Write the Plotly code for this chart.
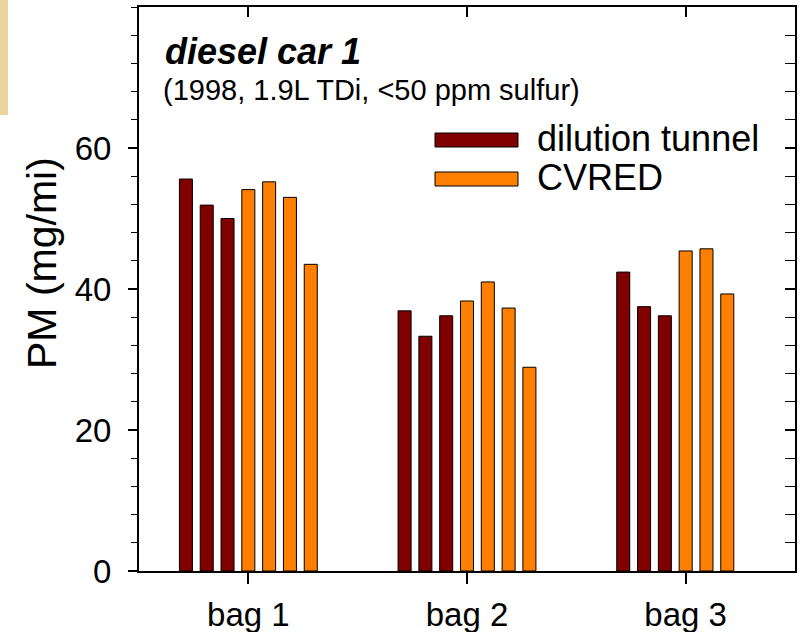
import plotly.graph_objects as go

# ---- data ----
bags = ["bag 1", "bag 2", "bag 3"]
# PM per run (mg/mi), one list per bag
dilution_tunnel = [
    [55.6, 51.9, 50.0],
    [36.9, 33.3, 36.2],
    [42.4, 37.5, 36.2],
]
cvred = [
    [54.1, 55.2, 53.0, 43.5],
    [38.3, 41.0, 37.3, 28.9],
    [45.4, 45.7, 39.3],
]
series_names = ["dilution tunnel", "CVRED"]
series_colors = ["#800000", "#FF8000"]
y_ticks = [0, 20, 40, 60]

FONT = "Liberation Sans, Arial, sans-serif"

fig = go.Figure()

def run_values(table, i):
    return [row[i] if i < len(row) else None for row in table]

n_dt = max(len(r) for r in dilution_tunnel)
n_cv = max(len(r) for r in cvred)
for table, name, color, n in [
    (dilution_tunnel, series_names[0], series_colors[0], n_dt),
    (cvred, series_names[1], series_colors[1], n_cv),
]:
    for i in range(n):
        fig.add_trace(go.Bar(
            x=bags, y=run_values(table, i), name=name, legendgroup=name,
            showlegend=False,
            marker=dict(color=color, line=dict(color="black", width=1)),
            xaxis="x", yaxis="y",
        ))

# invisible trace for the mirrored (top/right) axes
fig.add_trace(go.Scatter(x=[0], y=[0], xaxis="x2", yaxis="y2", mode="markers",
                         marker=dict(opacity=0), showlegend=False, hoverinfo="skip"))

fig.update_layout(
    width=802, height=632,
    margin=dict(l=139, r=7, t=7, b=61, autoexpand=False),
    plot_bgcolor="white", paper_bgcolor="white",
    barmode="group", bargap=0.334, bargroupgap=0.374,
    showlegend=False,
    font=dict(family=FONT, color="black", size=32),
    xaxis=dict(
        type="category", range=[-0.5, 2.5], showline=True, linecolor="black", linewidth=2,
        ticks="outside", ticklen=11, tickwidth=1.5, tickcolor="black",
        tickfont=dict(size=33, family=FONT), showgrid=False, zeroline=False,
        ticklabelstandoff=2, automargin=False,
    ),
    yaxis=dict(
        range=[0, 80], tickmode="array", tickvals=y_ticks, showline=True,
        linecolor="black", linewidth=2, ticks="outside", ticklen=9, tickwidth=1.5,
        tickcolor="black", tickfont=dict(size=33, family=FONT), showgrid=False,
        zeroline=False, ticklabelstandoff=10, automargin=False,
        minor=dict(dtick=4, tick0=0, ticks="outside", ticklen=6, tickwidth=1.2,
                   tickcolor="black", showgrid=False),
    ),
    xaxis2=dict(
        overlaying="x", side="top", range=[-0.5, 2.5], tickmode="array",
        tickvals=[0, 1, 2], showticklabels=False, showline=True, linecolor="black",
        linewidth=2, ticks="inside", ticklen=10, tickwidth=1.5, tickcolor="black",
        showgrid=False, zeroline=False, automargin=False,
    ),
    yaxis2=dict(
        overlaying="y", side="right", range=[0, 80], tickmode="array",
        tickvals=y_ticks + [80], showticklabels=False, showline=True, linecolor="black",
        linewidth=2, ticks="inside", ticklen=10, tickwidth=1.5, tickcolor="black",
        showgrid=False, zeroline=False, automargin=False,
        minor=dict(dtick=4, tick0=0, ticks="inside", ticklen=10, tickwidth=1.2,
                   tickcolor="black", showgrid=False),
    ),
)

W, H = 656.0, 564.0
L, T = 139.0, 7.0
def px(xp):
    return (xp - L) / W
def py(yp):
    return (T + H - yp) / H

# y-axis title
fig.add_annotation(text="PM (mg/mi)", xref="paper", yref="paper",
                   x=px(42), y=py(263), showarrow=False, textangle=-90,
                   font=dict(size=41, family=FONT), xanchor="center", yanchor="middle")

# titles inside the plot
fig.add_annotation(text="<b><i>diesel car 1</i></b>", xref="paper", yref="paper",
                   x=px(163), y=py(52), showarrow=False, xanchor="left", yanchor="middle",
                   font=dict(size=36, family=FONT))
fig.add_annotation(text="(1998, 1.9L TDi, &lt;50 ppm sulfur)", xref="paper", yref="paper",
                   x=px(161), y=py(90), showarrow=False, xanchor="left", yanchor="middle",
                   font=dict(size=29, family=FONT))

# custom legend
legend_rows = [(140, series_names[0], series_colors[0]), (179, series_names[1], series_colors[1])]
for yc, name, color in legend_rows:
    fig.add_shape(type="rect", xref="paper", yref="paper",
                  x0=px(435), x1=px(518), y0=py(yc - 7), y1=py(yc + 7),
                  fillcolor=color, line=dict(color="black", width=1))
    fig.add_annotation(text=name, xref="paper", yref="paper", x=px(535), y=py(yc - 2),
                       showarrow=False, xanchor="left", yanchor="middle",
                       font=dict(size=36, family=FONT))

# cropped image fragment at the far left edge
fig.add_shape(type="rect", xref="paper", yref="paper", x0=px(0), x1=px(8),
              y0=py(115), y1=py(0), fillcolor="#E8D49C", line=dict(width=0), layer="below")

fig.write_html("out.html")
